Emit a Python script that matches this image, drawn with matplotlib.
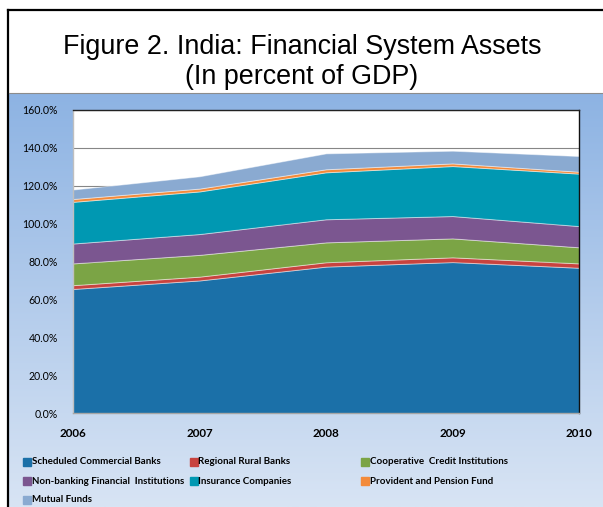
import numpy as np
import matplotlib
matplotlib.use("Agg")
import matplotlib.pyplot as plt
from matplotlib.lines import Line2D
from matplotlib.patches import Rectangle

# Financial system assets, percent of GDP
years = [2006, 2007, 2008, 2009, 2010]
series_names = [
    "Scheduled Commercial Banks",
    "Regional Rural Banks",
    "Cooperative  Credit Institutions",
    "Non-banking Financial  Institutions",
    "Insurance Companies",
    "Provident and Pension Fund",
    "Mutual Funds",
]
scheduled_commercial_banks = [65.5, 70.0, 77.3, 79.7, 76.7]
regional_rural_banks = [2.0, 2.0, 2.3, 2.5, 2.3]
cooperative_credit = [11.5, 11.5, 10.5, 10.0, 8.5]
non_banking_financial = [10.5, 11.0, 12.2, 11.8, 11.2]
insurance_companies = [22.0, 22.5, 24.8, 26.4, 27.7]
provident_pension = [1.5, 1.5, 1.6, 1.4, 1.0]
mutual_funds = [5.0, 6.5, 8.4, 6.7, 8.3]
y_ticks = [0, 20, 40, 60, 80, 100, 120, 140, 160]

colors = ["#1B70A8", "#C8433F", "#7BA445", "#7B5690",
          "#0098B2", "#F38A3A", "#8AAAD1"]

W, H = 603, 507
fig = plt.figure(figsize=(W / 100, H / 100), dpi=100)
fig.patch.set_facecolor("white")

FONT = ["Lato", "DejaVu Sans"]

def fx(px):
    return px / W

def fy(py):
    return 1 - py / H

# Blue gradient chart panel
panel_top = 93
bg = fig.add_axes([fx(9), 0, 1 - fx(9), fy(panel_top)])
grad = np.linspace(0, 1, 256).reshape(-1, 1)
top_c = np.array([0x8D, 0xB3, 0xE3]) / 255
bot_c = np.array([0xD8, 0xE4, 0xF4]) / 255
img = top_c[None, None, :] * (1 - grad[..., None]) + bot_c[None, None, :] * grad[..., None]
bg.imshow(img, aspect="auto", extent=[0, 1, 0, 1], origin="upper")
bg.set_axis_off()

# Frame lines
fig.add_artist(Line2D([fx(8), 1], [fy(9.5), fy(9.5)], color="black", lw=1.6))
fig.add_artist(Line2D([fx(8), fx(8)], [0, fy(9.5)], color="black", lw=1.6))
fig.add_artist(Line2D([fx(9), 1], [fy(panel_top), fy(panel_top)], color="#8C8C8C", lw=0.8))

# Title
fig.text(fx(302), fy(47), "Figure 2. India: Financial System Assets",
         ha="center", va="center", fontsize=19.4, family="Liberation Sans")
fig.text(fx(302), fy(77), "(In percent of GDP)",
         ha="center", va="center", fontsize=19.4, family="Liberation Sans")

# Plot area
left, right, top, bottom = 73, 579, 110, 413
ax = fig.add_axes([fx(left), fy(bottom), fx(right - left), (bottom - top) / H])
ax.set_facecolor("white")
data = [scheduled_commercial_banks, regional_rural_banks, cooperative_credit,
        non_banking_financial, insurance_companies, provident_pension, mutual_funds]
polys = ax.stackplot(years, *data, colors=colors, labels=series_names,
                     edgecolor=(1, 1, 1, 0.45), linewidth=0.7, zorder=2)

ax.set_xlim(years[0], years[-1])
ax.set_ylim(0, 160)
ax.set_yticks(y_ticks)
ax.set_yticklabels([f"{t:.1f}%" for t in y_ticks], family=FONT, fontsize=7.6)
ax.set_xticks(years)
ax.set_xticklabels([str(y) for y in years], family=FONT, fontsize=8.4,
                   fontweight="bold")
ax.tick_params(axis="y", length=0, pad=11)
ax.tick_params(axis="x", length=0, pad=11)
ax.grid(axis="y", color="#868686", lw=0.8, zorder=1)
ax.set_axisbelow(True)
ax.spines["top"].set_color("#222222")
ax.spines["right"].set_color("#111111")
ax.spines["left"].set_color("#BFBFBF")
ax.spines["bottom"].set_color("#A6A6A6")
for s in ax.spines.values():
    s.set_linewidth(1.0)

# Legend laid out in three columns
col_x = [23, 190, 361]
row_y = [462, 481, 500]
for i, (name, c) in enumerate(zip(series_names, colors)):
    r, k = divmod(i, 3)
    x0, y0 = col_x[k], row_y[r]
    fig.add_artist(Rectangle((fx(x0), fy(y0 + 3.8)), fx(7.5), 7.5 / H,
                             transform=fig.transFigure, color=c))
    fig.text(fx(x0 + 8.5), fy(y0), name, ha="left", va="center",
             fontsize=7.0, fontweight="bold", family=FONT)

fig.savefig("out.png", dpi=100)
